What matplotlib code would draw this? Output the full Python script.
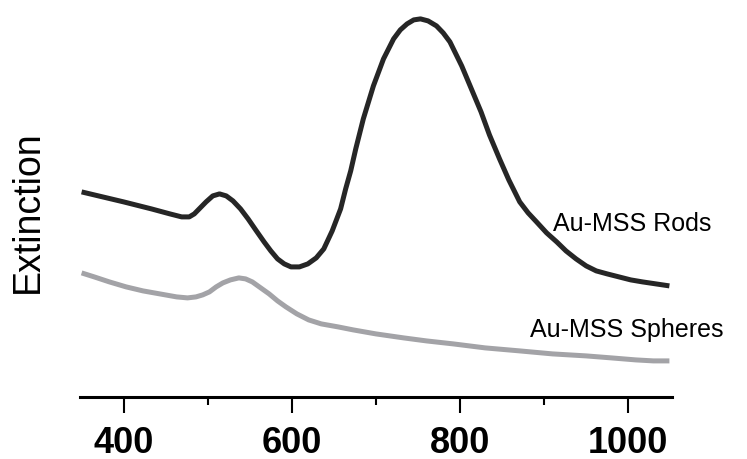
import matplotlib
matplotlib.use("Agg")
import matplotlib.pyplot as plt

plt.rcParams['font.family'] = ['Liberation Sans', 'DejaVu Sans']

# wavelength (nm) and extinction (arb. units)
rods_nm = [350, 375, 400, 433, 455, 469, 478, 484, 491, 498, 506, 514, 522, 530,
           539, 548, 557, 567, 575, 583, 591, 599, 609, 619, 629, 638, 648, 658,
           664, 670, 676, 685, 697, 709, 721, 729, 737, 745, 753, 762, 772, 780,
           788, 802, 815, 825, 835, 847, 858, 871, 881, 891, 903, 915, 926, 938,
           950, 962, 975, 989, 1003, 1017, 1033, 1049]
rods_ext = [2.07, 2.02, 1.97, 1.90, 1.85, 1.82, 1.82, 1.85, 1.91, 1.97, 2.03, 2.05, 2.03, 1.98,
            1.90, 1.80, 1.69, 1.57, 1.48, 1.40, 1.35, 1.32, 1.32, 1.35, 1.41, 1.50, 1.68, 1.90,
            2.10, 2.28, 2.50, 2.80, 3.13, 3.40, 3.60, 3.69, 3.75, 3.79, 3.80, 3.78, 3.73, 3.66,
            3.57, 3.33, 3.07, 2.87, 2.64, 2.40, 2.19, 1.97, 1.86, 1.77, 1.66, 1.57, 1.48, 1.40,
            1.33, 1.28, 1.25, 1.22, 1.19, 1.17, 1.15, 1.13]

spheres_nm = [350, 365, 383, 403, 423, 443, 463, 476, 486, 494, 502, 510, 518, 527,
              537, 545, 553, 563, 573, 583, 593, 606, 620, 635, 655, 673, 700, 733,
              760, 792, 830, 871, 910, 950, 980, 1009, 1030, 1049]
spheres_ext = [1.26, 1.22, 1.17, 1.12, 1.08, 1.05, 1.02, 1.01, 1.02, 1.04, 1.07, 1.12, 1.16, 1.19,
               1.21, 1.20, 1.17, 1.11, 1.05, 0.98, 0.92, 0.85, 0.79, 0.75, 0.72, 0.69, 0.65, 0.61,
               0.58, 0.55, 0.51, 0.48, 0.45, 0.43, 0.41, 0.39, 0.38, 0.38]

fig = plt.figure(figsize=(7.47, 4.6), dpi=100)
ax = fig.add_axes([0.107, 0.135, 0.7925, 0.8435])

ax.plot(rods_nm, rods_ext, color='#262626', lw=3.6, solid_capstyle='butt', solid_joinstyle='round')
ax.plot(spheres_nm, spheres_ext, color='#a3a3a7', lw=3.6, solid_capstyle='butt', solid_joinstyle='round')

ax.text(910, 1.76, 'Au-MSS Rods', fontsize=18, va='center', ha='left', clip_on=False)
ax.text(883, 0.70, 'Au-MSS Spheres', fontsize=18, va='center', ha='left', clip_on=False)

ax.set_xlim(348, 1052)
ax.set_ylim(0.02, 3.9)

for s in ['top', 'right', 'left']:
    ax.spines[s].set_visible(False)
ax.spines['bottom'].set_linewidth(2.2)
ax.set_yticks([])

ax.set_xticks([400, 600, 800, 1000])
ax.set_xticks([500, 700, 900], minor=True)
ax.tick_params(axis='x', which='major', length=11.5, width=1.5, pad=9, labelsize=26)
ax.tick_params(axis='x', which='minor', length=6, width=1.5)
for lab in ax.get_xticklabels():
    lab.set_fontweight('bold')

fig.text(28 / 747, 1 - 212 / 460, 'Extinction', fontsize=27, rotation=90,
         ha='center', va='center')

fig.savefig('out.png', dpi=100)
